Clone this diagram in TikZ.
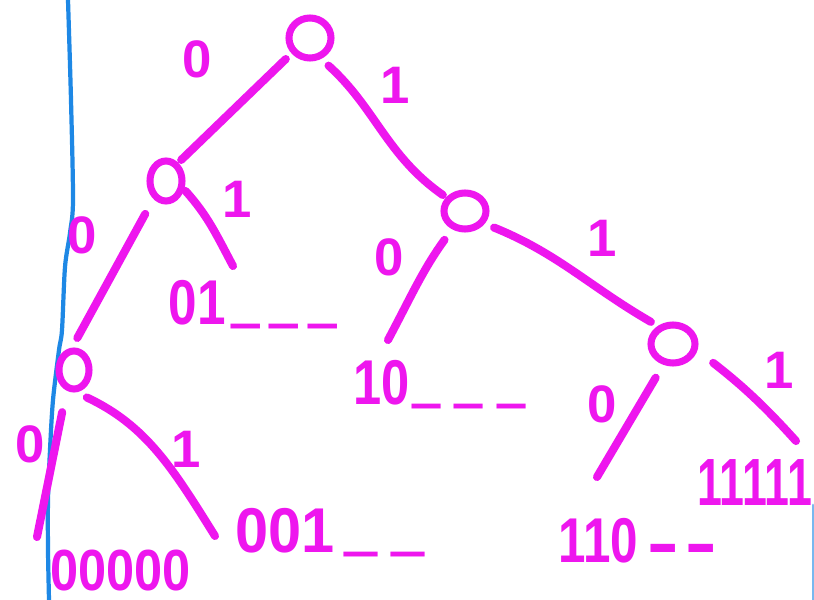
\documentclass[tikz,border=0pt]{standalone}
\usepackage{graphicx}
\usepackage{fontspec}
\setmainfont{Liberation Sans}
\usetikzlibrary{shapes.geometric}
\definecolor{pen}{RGB}{238,22,238}
\definecolor{ink}{RGB}{30,136,229}
\newcommand{\usc}{\raisebox{3.2pt}{\scalebox{1}[2]{\_}}}
\newcommand{\ndash}{\raisebox{-2.2pt}{\scalebox{1}[1.3]{–}}}
\begin{document}
\begin{tikzpicture}[x=0.01cm,y=-0.01cm,
  vtx/.style={draw=pen,line width=2pt,ellipse,inner sep=0pt},
  edge/.style={draw=pen,line width=2.3pt,line cap=round},
  lab/.style={text=pen,font=\bfseries\fontsize{15}{15}\selectfont,inner sep=0pt},
  leaf/.style={text=pen,font=\bfseries\fontsize{18}{18}\selectfont,inner sep=0pt,anchor=base west},
  margin/.style={draw=ink,line width=1.2pt,line cap=round}
]
\fill[white] (0,0) rectangle (814,600);
\useasboundingbox (0,0) rectangle (814,600);

% margin lines
\draw[margin] plot[smooth] coordinates {(68,0) (71,100) (73,200) (70,233) (65,267) (62,330) (59,350) (53,400) (50,450) (48,500) (48,550) (49,600)};
\draw[margin,line width=0.8pt,ink!60] (813,505) -- (813,600);

% vertices
\node[vtx,minimum width=0.42cm,minimum height=0.40cm] (r) at (310,38) {};
\node[vtx,minimum width=0.32cm,minimum height=0.40cm] (a) at (166,181) {};
\node[vtx,minimum width=0.42cm,minimum height=0.36cm] (b) at (465,211) {};
\node[vtx,minimum width=0.30cm,minimum height=0.38cm] (c) at (74,370) {};
\node[vtx,minimum width=0.44cm,minimum height=0.38cm] (d) at (673,344) {};

% free ends near leaves
\coordinate (e01) at (233,266);
\coordinate (e10) at (388,340);
\coordinate (e0) at (37,537);
\coordinate (e001) at (215,536);
\coordinate (e110) at (597,477);
\coordinate (e111) at (796,441);

% edges
\draw[edge,shorten <=0.08cm,shorten >=0.04cm] (r.220) -- (a.56);
\draw[edge,shorten <=0.10cm,shorten >=0.04cm] (r.298) to[out=-42,in=145] (b.144);
\draw[edge,shorten <=0.17cm,shorten >=0.11cm] (a.235) -- (c.95);
\draw[edge,shorten <=0.02cm] (a.-25) to[out=-48,in=118] (e01);
\draw[edge,shorten <=0.13cm] (b.235) to[out=234,in=62] (e10);
\draw[edge,shorten <=0.10cm,shorten >=0.08cm] (b.-33) to[out=-22,in=150] (d.130);
\draw[edge,shorten <=0.22cm] (c.250) -- (e0);
\draw[edge,shorten <=0.12cm] (c.-85) to[out=-25,in=122] (e001);
\draw[edge,shorten <=0.15cm] (d.245) -- (e110);
\draw[edge,shorten <=0.20cm] (d.-15) to[out=-38,in=132] (e111);

% edge labels
\node[lab] (l1) at (197,59) {0};
\node[lab] (l2) at (395,85) {1};
\node[lab] (l3) at (82,235) {0};
\node[lab] (l4) at (237,199) {1};
\node[lab] (l5) at (389,257) {0};
\node[lab] (l6) at (602,238) {1};
\node[lab] (l7) at (30,444) {0};
\node[lab] (l8) at (186,449) {1};
\node[lab] (l9) at (602,404) {0};
\node[lab] (l10) at (779,370) {1};

% leaf labels
\node[leaf,xscale=0.81] (t01) at (168,325) {01\hspace{2pt}\usc\hspace{3.5pt}\usc\hspace{3.5pt}\usc};
\node[leaf,xscale=0.80] (t10) at (353,405) {10\hspace{1pt}\usc\hspace{5pt}\usc\hspace{5pt}\usc};
\node[leaf,xscale=0.94] (t001) at (235,553) {001\hspace{3pt}\usc\hspace{4pt}\usc};
\node[leaf,xscale=0.87,font=\bfseries\fontsize{16.5}{16.5}\selectfont] (t00000) at (50,591) {00000};
\node[leaf,xscale=0.78] (t110) at (558,563) {110\hspace{4pt}\ndash\hspace{4pt}\ndash};
\node[leaf,xscale=0.67,font=\bfseries\fontsize{19}{19}\selectfont] (t11111) at (697,505) {11111};
\end{tikzpicture}
\end{document}
